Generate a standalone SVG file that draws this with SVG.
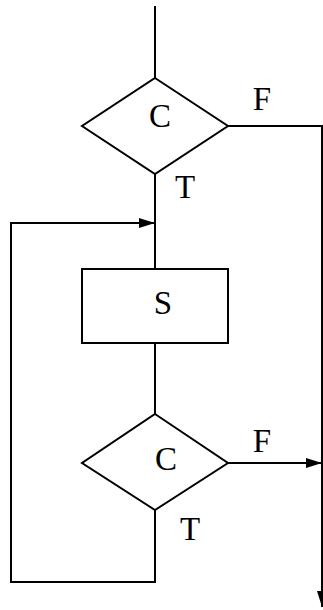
<svg xmlns="http://www.w3.org/2000/svg" width="323" height="610" viewBox="0 0 323 610">
<style>
.s{fill:none;stroke:#000;stroke-width:2;stroke-linejoin:miter}
.n{fill:#fff;stroke:#000;stroke-width:2}
.t{font-family:"Liberation Serif","DejaVu Serif",serif;font-size:33px;fill:#000;text-anchor:middle}
</style>
<defs>
<marker id="ah" viewBox="0 0 16 10" refX="16" refY="5" markerWidth="16" markerHeight="10" markerUnits="userSpaceOnUse" orient="auto">
<path d="M0,0 L16,5 L0,10 z" fill="#000"/>
</marker>
</defs>
<rect width="323" height="610" fill="#fff"/>
<g id="connectors">
<path class="s" d="M155,6 V78"/>
<path class="s" d="M155,174 V269"/>
<path class="s" d="M155,343 V414"/>
<path class="s" d="M228,126 H322 V607" marker-end="url(#ah)"/>
<path class="s" d="M155,510 V582 H11 V223 H155" marker-end="url(#ah)"/>
<path class="s" d="M228,463 H322" marker-end="url(#ah)"/>
<text class="t" x="262" y="110">F</text>
<text class="t" x="185" y="198">T</text>
<text class="t" x="262" y="452">F</text>
<text class="t" x="190" y="540">T</text>
</g>
<g id="cond1">
<polygon class="n" points="155,78 228,126 155,174 82,126"/>
<text class="t" x="160" y="127">C</text>
</g>
<g id="stmt">
<rect class="n" x="82" y="269" width="146" height="74"/>
<text class="t" x="163" y="314">S</text>
</g>
<g id="cond2">
<polygon class="n" points="155,414 228,463 155,510 82,463"/>
<text class="t" x="166" y="470">C</text>
</g>
</svg>
